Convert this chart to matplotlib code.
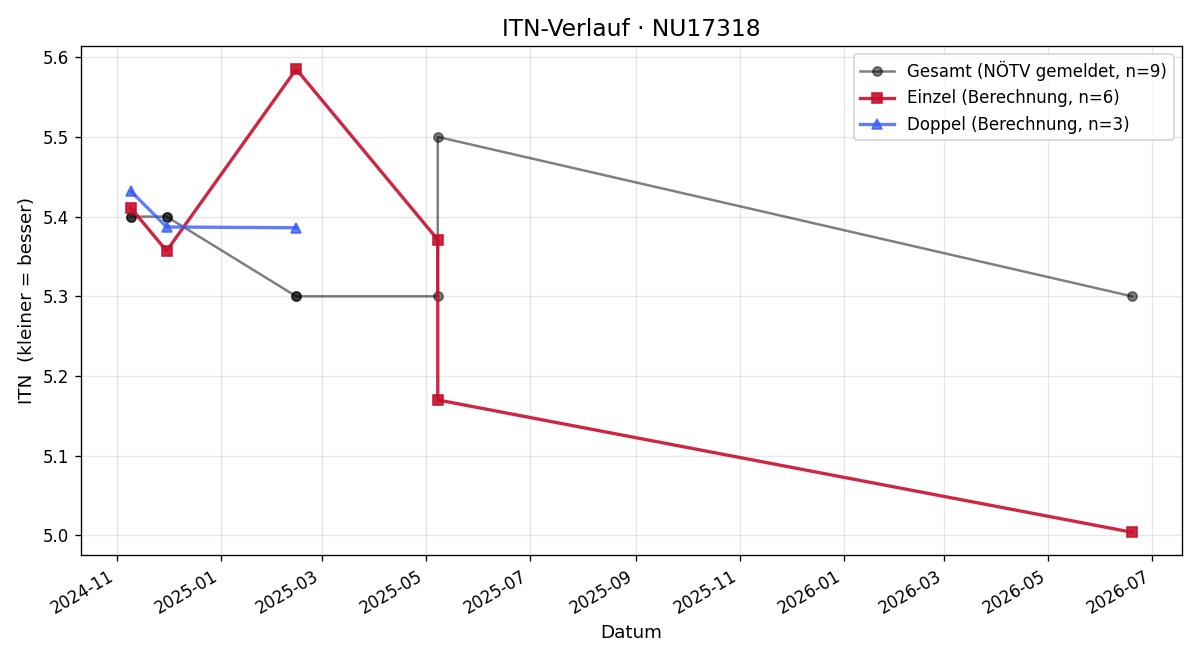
import matplotlib
matplotlib.use("Agg")
import matplotlib.pyplot as plt
import pandas as pd

# Gesamt (NÖTV gemeldet) - some entries repeat on the same day
gesamt_dates = ["2024-11-09", "2024-11-09", "2024-11-30", "2024-11-30",
                "2025-02-14", "2025-02-14", "2025-05-08", "2025-05-08",
                "2026-06-19"]
gesamt_itn = [5.4, 5.4, 5.4, 5.4, 5.3, 5.3, 5.3, 5.5, 5.3]

einzel_dates = ["2024-11-09", "2024-11-30", "2025-02-14", "2025-05-08",
                "2025-05-08", "2026-06-19"]
einzel_itn = [5.411, 5.357, 5.585, 5.371, 5.170, 5.004]

doppel_dates = ["2024-11-09", "2024-11-30", "2025-02-14"]
doppel_itn = [5.432, 5.387, 5.386]


def main():
    fig, ax = plt.subplots(figsize=(10, 5.5), dpi=120)

    ax.plot(pd.to_datetime(gesamt_dates), gesamt_itn, marker="o", color="black",
            alpha=0.5, linewidth=1.5, markersize=5.5,
            label=f"Gesamt (NÖTV gemeldet, n={len(gesamt_itn)})")
    ax.plot(pd.to_datetime(einzel_dates), einzel_itn, marker="s", color="#c8102e",
            alpha=0.9, linewidth=2, markersize=6.5,
            label=f"Einzel (Berechnung, n={len(einzel_itn)})")
    ax.plot(pd.to_datetime(doppel_dates), doppel_itn, marker="^", color="#3a5cf5",
            alpha=0.8, linewidth=2, markersize=6.5,
            label=f"Doppel (Berechnung, n={len(doppel_itn)})")

    ax.set_title("ITN-Verlauf · NU17318", fontsize=14)
    ax.set_xlabel("Datum", fontsize=11)
    ax.set_ylabel("ITN  (kleiner = besser)", fontsize=11)
    ax.grid(True, alpha=0.3)
    ax.legend(loc="upper right")
    fig.autofmt_xdate()
    fig.tight_layout()
    fig.savefig("out.png")


if __name__ == "__main__":
    main()
